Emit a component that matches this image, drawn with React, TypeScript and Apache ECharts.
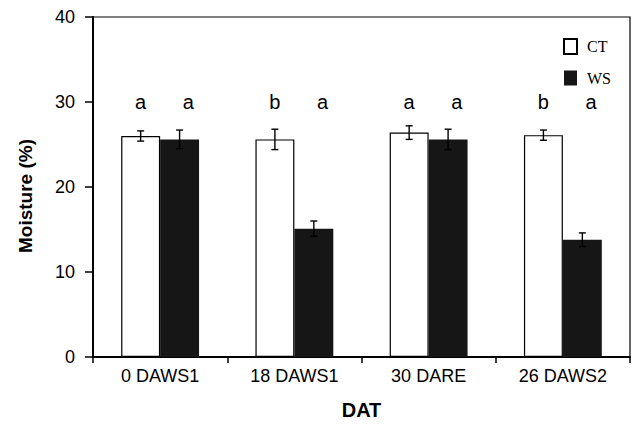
import React, { useEffect, useRef } from "react";
import * as echarts from "echarts";

const categories = ["0 DAWS1", "18 DAWS1", "30 DARE", "26 DAWS2"];
const ctValues = [26.0, 25.6, 26.4, 26.1];
const ctErrors = [0.6, 1.2, 0.8, 0.6];
const wsValues = [25.6, 15.1, 25.6, 13.8];
const wsErrors = [1.1, 0.9, 1.2, 0.8];
const ctLetters = ["a", "b", "a", "b"];
const wsLetters = ["a", "a", "a", "a"];
const letterLevel = 30;
const yTicks = { min: 0, max: 40, interval: 10 };

const SANS = "'Liberation Sans', Arial, Helvetica, sans-serif";
const SERIF = "'Liberation Serif', 'Times New Roman', serif";
const BAR_FRAC = 0.29;

function errorRenderer(side: number) {
  return (params: any, api: any) => {
    const i = api.value(0);
    const v = api.value(1);
    const e = api.value(2);
    const band = api.size([1, 0])[0];
    const c = api.coord([i, v]);
    const x = c[0] + side * band * BAR_FRAC * 0.5;
    const top = api.coord([i, v + e])[1];
    const bot = api.coord([i, v - e])[1];
    const half = 3.5;
    const style = { stroke: "#000", lineWidth: 1.4 };
    return {
      type: "group",
      children: [
        { type: "line", shape: { x1: x, y1: top, x2: x, y2: bot }, style },
        { type: "line", shape: { x1: x - half, y1: top, x2: x + half, y2: top }, style },
        { type: "line", shape: { x1: x - half, y1: bot, x2: x + half, y2: bot }, style },
      ],
    };
  };
}

function letterRenderer(offsetFrac: number) {
  return (params: any, api: any) => {
    const i = api.value(0);
    const level = api.value(1);
    const band = api.size([1, 0])[0];
    const c = api.coord([i, level]);
    return {
      type: "text",
      x: c[0] + offsetFrac * band,
      y: c[1],
      style: {
        text: api.value(2),
        fill: "#000",
        font: `20px ${SANS}`,
        align: "center",
        verticalAlign: "middle",
      },
    };
  };
}

export default function App() {
  const ref = useRef<HTMLDivElement>(null);
  useEffect(() => {
    document.body.style.margin = "0";
    if (!ref.current) return;
    const chart = echarts.init(ref.current, undefined, { renderer: "svg" });
    const ctErrData = ctValues.map((v, i) => [i, v, ctErrors[i]]);
    const wsErrData = wsValues.map((v, i) => [i, v, wsErrors[i]]);
    const ctLetterData = ctLetters.map((l, i) => [i, letterLevel, l]);
    const wsLetterData = wsLetters.map((l, i) => [i, letterLevel, l]);
    chart.setOption({
      animation: false,
      backgroundColor: "#fff",
      grid: {
        left: 93,
        right: 4,
        top: 17,
        bottom: 65,
        show: true,
        borderColor: "#000",
        borderWidth: 1.2,
        backgroundColor: "transparent",
      },
      legend: {
        data: [
          { name: "CT", itemStyle: { color: "#fff", borderColor: "#000", borderWidth: 2 } },
          { name: "WS", itemStyle: { color: "#161616", borderColor: "#161616", borderWidth: 0 } },
        ],
        orient: "vertical",
        left: 563,
        top: 38,
        padding: 0,
        itemWidth: 13,
        itemHeight: 15,
        itemGap: 15,
        icon: "rect",
        textStyle: { fontFamily: SERIF, fontSize: 16, color: "#000", padding: [0, 0, 0, 5] },
      },
      xAxis: {
        type: "category",
        data: categories,
        name: "DAT",
        nameLocation: "middle",
        nameGap: 43,
        nameTextStyle: { fontFamily: SANS, fontSize: 20, fontWeight: "bold", color: "#000" },
        axisLine: { lineStyle: { color: "#000", width: 2 } },
        axisTick: { show: true, length: 6, lineStyle: { color: "#000", width: 1.5 } },
        axisLabel: { fontFamily: SANS, fontSize: 18, color: "#000", margin: 10 },
      },
      yAxis: {
        type: "value",
        min: yTicks.min,
        max: yTicks.max,
        interval: yTicks.interval,
        name: "Moisture (%)",
        nameLocation: "middle",
        nameGap: 58,
        nameTextStyle: {
          fontFamily: SANS,
          fontSize: 19,
          fontWeight: "bold",
          color: "#000",
          padding: [0, 18, 0, 0],
        },
        splitLine: { show: false },
        axisLine: { show: true, lineStyle: { color: "#000", width: 2 } },
        axisTick: { show: true, length: 8, lineStyle: { color: "#000", width: 1.5 } },
        axisLabel: { fontFamily: SANS, fontSize: 18, color: "#000", margin: 18 },
      },
      series: [
        {
          name: "CT",
          type: "bar",
          data: ctValues,
          barWidth: "29%",
          barGap: "0%",
          itemStyle: { color: "#fff", borderColor: "#000", borderWidth: 1.2 },
        },
        {
          name: "WS",
          type: "bar",
          data: wsValues,
          barWidth: "29%",
          barGap: "0%",
          itemStyle: { color: "#161616", borderColor: "#161616", borderWidth: 0 },
        },
        {
          name: "ctErr",
          type: "custom",
          data: ctErrData,
          renderItem: errorRenderer(-1),
          z: 5,
          silent: true,
        },
        {
          name: "wsErr",
          type: "custom",
          data: wsErrData,
          renderItem: errorRenderer(1),
          z: 5,
          silent: true,
        },
        {
          name: "ctLetters",
          type: "custom",
          data: ctLetterData,
          renderItem: letterRenderer(-0.145),
          z: 6,
          silent: true,
        },
        {
          name: "wsLetters",
          type: "custom",
          data: wsLetterData,
          renderItem: letterRenderer(0.21),
          z: 6,
          silent: true,
        },
      ],
    });
    return () => chart.dispose();
  }, []);
  return <div ref={ref} style={{ width: 634, height: 425 }} />;
}
